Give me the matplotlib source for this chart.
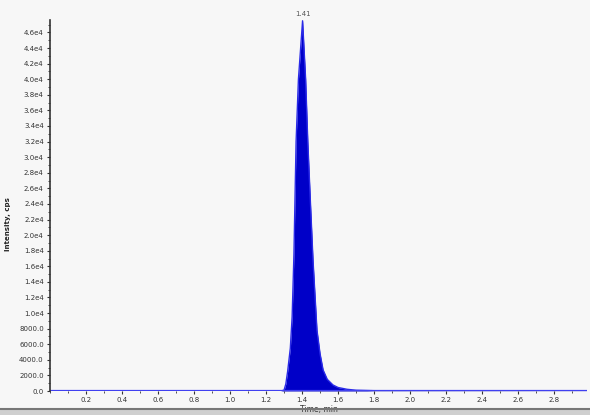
import matplotlib.pyplot as plt
from matplotlib.ticker import FixedLocator, MultipleLocator

# Cromatograma: intensidad (cps) frente a tiempo (min)
tiempo = [0.0, 1.28, 1.30, 1.31, 1.32, 1.335, 1.345, 1.355, 1.367, 1.380, 1.403,
          1.420, 1.432, 1.447, 1.461, 1.483, 1.50, 1.517, 1.54, 1.572, 1.60,
          1.65, 1.70, 1.80, 2.98]
intensidad = [0, 0, 100, 900, 2500, 5500, 9500, 17500, 32000, 40000, 47500,
              40000, 32000, 24000, 16800, 7800, 4800, 2700, 1500, 770, 450,
              220, 100, 40, 20]

y_ticks = list(range(0, 46001, 2000))
y_labels = ['0.0', '2000.0', '4000.0', '6000.0', '8000.0'] + \
           ['%.1fe4' % (v / 1e4) for v in y_ticks[5:]]
x_ticks = [0.2, 0.4, 0.6, 0.8, 1.0, 1.2, 1.4, 1.6, 1.8, 2.0, 2.2, 2.4, 2.6, 2.8]
pico_t, pico_label = 1.403, '1.41'

fig = plt.figure(figsize=(5.9, 4.15), dpi=100, facecolor='#f7f7f7')
ax = fig.add_axes([50 / 590, 1 - 391 / 415, 537 / 590, 371 / 415])
ax.set_facecolor('#f7f7f7')

ax.fill_between(tiempo, intensidad, color='#0000c8', lw=0)
ax.plot(tiempo, intensidad, color='#2a2ae8', lw=1.0)
ax.axhline(0, color='#4040f0', lw=1.6)

ax.set_xlim(0, 2.983)
ax.set_ylim(0, 47600)

ax.yaxis.set_major_locator(FixedLocator(y_ticks))
ax.set_yticklabels(y_labels)
ax.yaxis.set_minor_locator(MultipleLocator(1000))
ax.set_xticks(x_ticks)
ax.set_xticklabels(['%.1f' % v for v in x_ticks])
ax.xaxis.set_minor_locator(MultipleLocator(0.1))

ax.tick_params(labelsize=5, colors='#333333', length=2.5, width=0.8, pad=2)
ax.tick_params(which='minor', length=1.5, width=0.6, colors='#333333')
for s in ['top', 'right']:
    ax.spines[s].set_visible(False)
ax.spines['left'].set_color('#333333')
ax.spines['left'].set_linewidth(1.2)
ax.spines['bottom'].set_visible(False)

ax.set_xlabel('Time, min', fontsize=5.5, color='#333333', labelpad=1)
ax.set_ylabel('Intensity, cps', fontsize=5, fontweight='bold', color='#222222')
ax.yaxis.set_label_coords(-0.072, 0.45)

ax.annotate(pico_label, (pico_t, max(intensidad)), xytext=(0, 3),
            textcoords='offset points', ha='center', va='bottom',
            fontsize=5, color='#555555', annotation_clip=False)

# borde inferior gris
fig.add_artist(plt.Line2D([0, 1], [1 - 409 / 415] * 2, color='#777777', lw=1.5))
fig.patches.append(plt.Rectangle((0, 0), 1, 1 - 410 / 415, transform=fig.transFigure,
                                 color='#cfcfcf', zorder=-1))

fig.savefig('out.png', dpi=100, facecolor=fig.get_facecolor())
